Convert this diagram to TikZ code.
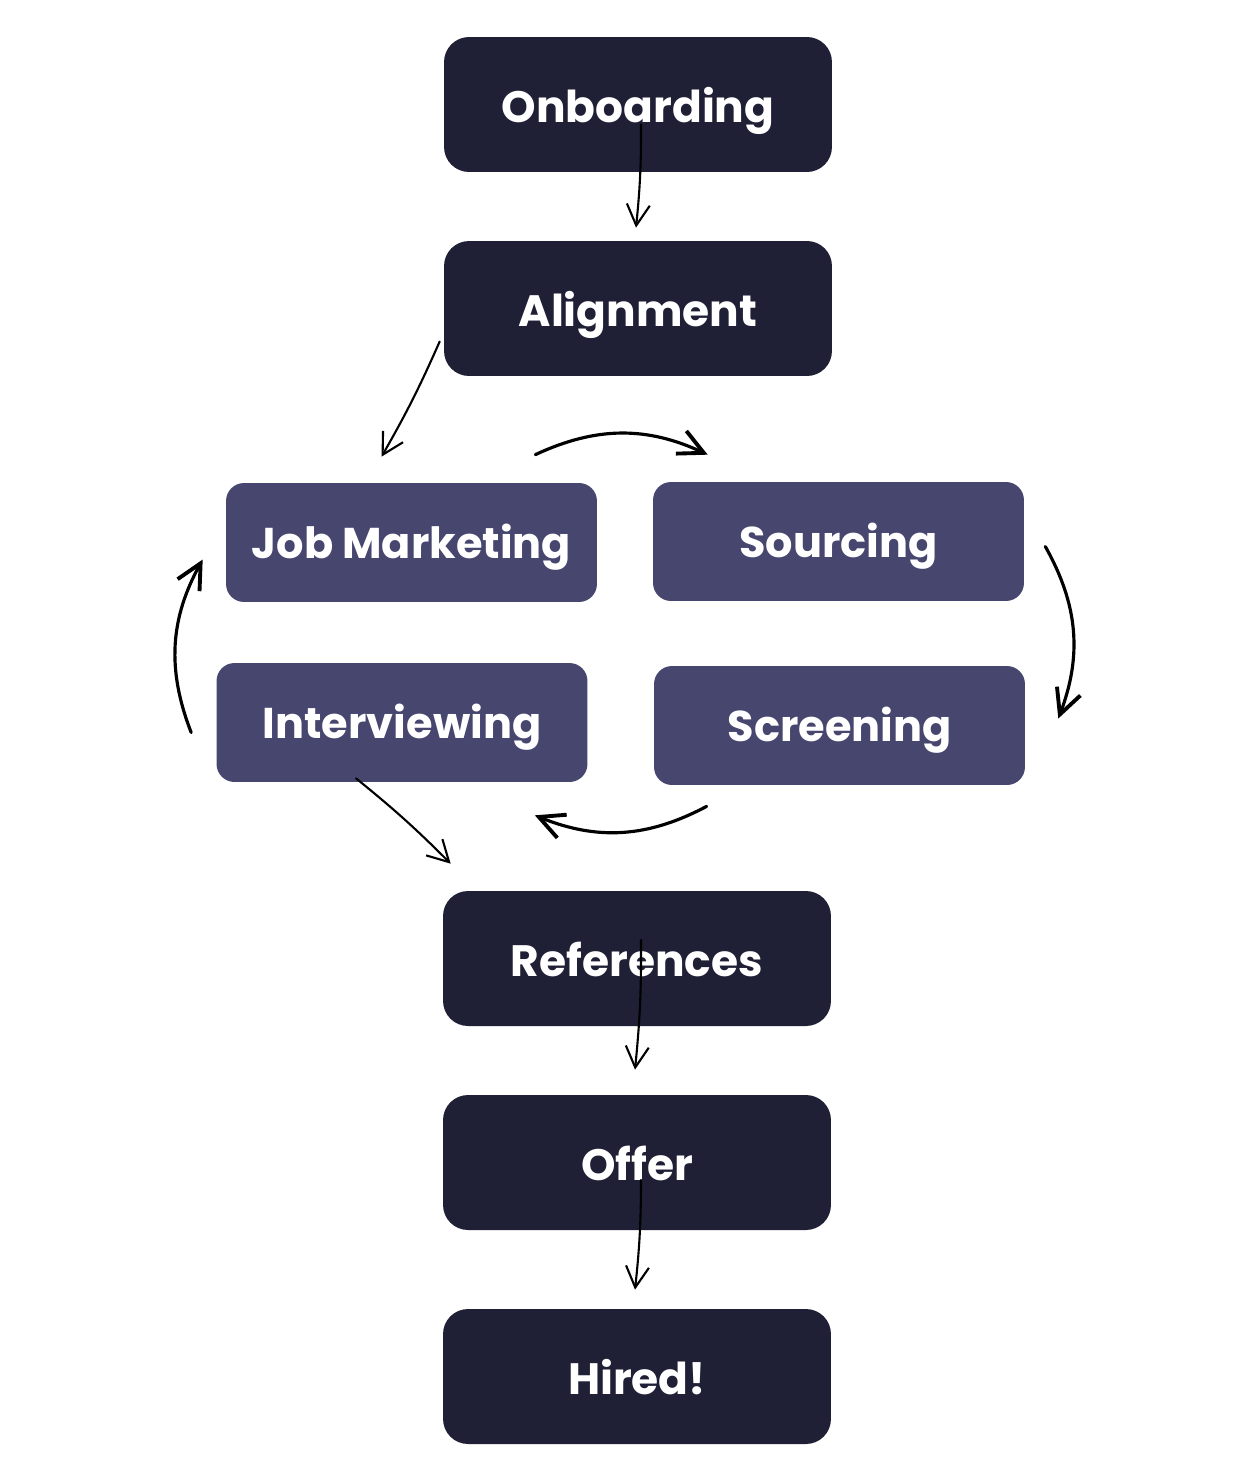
\documentclass[tikz,border=0pt]{standalone}
\usepackage{fontspec}
\setmainfont{Poppins}
\usetikzlibrary{arrows.meta}

\definecolor{stepdark}{HTML}{1F1F35}
\definecolor{steppurple}{HTML}{47466F}

\begin{document}
\begin{tikzpicture}[x=0.02cm,y=-0.02cm,
    mainbox/.style={fill=stepdark,rounded corners=0.5cm,minimum width=7.76cm,
      minimum height=2.7cm,text=white,text height=0.9cm,text depth=0.2cm,
      font=\fontsize{25}{30}\selectfont\bfseries},
    loopbox/.style={fill=steppurple,rounded corners=0.36cm,minimum width=7.42cm,
      minimum height=2.38cm,text=white,text height=0.82cm,text depth=0.2cm,
      font=\fontsize{24.5}{30}\selectfont\bfseries},
    flow/.style={line width=1.2pt,line cap=round,
      -{Straight Barb[length=0.42cm,width=0.46cm,line width=1.2pt]}},
    loop/.style={line width=1.8pt,line cap=round,
      -{Straight Barb[length=0.5cm,width=0.5cm,line width=2.2pt]}}]

  \useasboundingbox (0,0) rectangle (1253,1478);

  % main steps
  \node[mainbox] (onb) at (638,104.5) {Onboarding};
  \node[mainbox] (ali) at (638,308.5) {Alignment};
  \node[mainbox] (ref) at (637,958.5) {References};
  \node[mainbox] (off) at (637,1162.5) {Offer};
  \node[mainbox] (hir) at (637,1376.5) {Hired!};

  % loop steps
  \node[loopbox] (jm)  at (411.5,542.5) {Job Marketing};
  \node[loopbox] (src) at (838.5,541.5) {Sourcing};
  \node[loopbox] (scr) at (839.5,725.5) {Screening};
  \node[loopbox] (int) at (402,722.5) {Interviewing};

  % arrows into and out of the loop
  \draw[flow] ([xshift=0.06cm,yshift=-0.4cm]onb.center) to[bend left=3] ([xshift=-0.04cm,yshift=0.26cm]ali.north);
  \draw[flow] ([xshift=-0.08cm,yshift=-0.66cm]ali.west) to[bend left=3] ([xshift=-0.6cm,yshift=0.52cm]jm.north);
  \draw[flow] ([xshift=-0.92cm,yshift=0.08cm]int.south) to[bend left=3] ([xshift=0.16cm,yshift=0.54cm]ref.north west);
  \draw[flow] ([xshift=0.08cm,yshift=0.37cm]ref.center) to[bend left=3] ([xshift=-0.04cm,yshift=0.5cm]off.north);
  \draw[flow] ([xshift=0.08cm,yshift=-0.35cm]off.center) to[bend left=3] ([xshift=-0.04cm,yshift=0.38cm]hir.north);

  % the loop
  \draw[loop] ([xshift=-1.24cm,yshift=0.56cm]jm.north east) to[bend left=25] ([xshift=1.1cm,yshift=0.54cm]src.north west);
  \draw[loop] ([xshift=0.42cm,yshift=-0.1cm]src.east) to[bend left=25] ([xshift=0.66cm,yshift=0.14cm]scr.east);
  \draw[loop] ([xshift=1.06cm,yshift=-0.42cm]scr.south west) to[bend left=25] ([xshift=-1.06cm,yshift=-0.66cm]int.south east);
  \draw[loop] ([xshift=-0.5cm,yshift=-0.2cm]int.west) to[bend left=25] ([xshift=-0.46cm,yshift=-0.34cm]jm.west);
\end{tikzpicture}
\end{document}
